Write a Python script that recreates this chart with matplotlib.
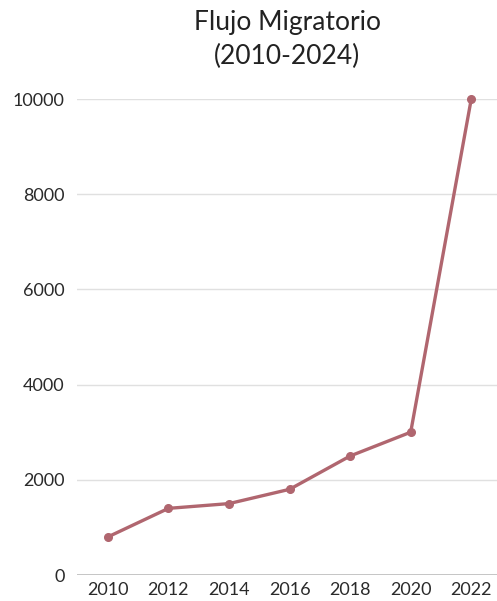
import matplotlib
matplotlib.use("Agg")
import matplotlib.pyplot as plt

years = [2010, 2012, 2014, 2016, 2018, 2020, 2022]
values = [800, 1400, 1500, 1800, 2500, 3000, 10000]
yticks = [0, 2000, 4000, 6000, 8000, 10000]
title = "Flujo Migratorio\n(2010-2024)"

plt.rcParams['font.family'] = ['Lato', 'DejaVu Sans']

fig = plt.figure(figsize=(4.97, 6.01), dpi=100)
ax = fig.add_axes([77/497, 26/601, 1 - 77/497, (575-99)/601])

color = '#b0666f'
ax.plot(years, values, color=color, linewidth=2.4, marker='o', markersize=5.5,
        clip_on=False, zorder=3)

ax.set_xlim(2008.98, 2022.85)
ax.set_ylim(0, 10000)
ax.set_xticks(years)
ax.set_yticks(yticks)
ax.tick_params(axis='both', length=0, labelsize=13, colors='#2a2a2a')
ax.tick_params(axis='y', pad=9)
ax.tick_params(axis='x', pad=5)

for s in ax.spines.values():
    s.set_visible(False)
ax.grid(axis='y', color='#e0e0e0', linewidth=1)
ax.axhline(0, color='#bdbdbd', linewidth=1.2, zorder=1)
ax.set_axisbelow(True)

fig.text((77 + 497) / 2 / 497, 1 - 10/601, title, ha='center', va='top',
         fontsize=19, color='#222222', linespacing=1.45)

fig.savefig('out.png', dpi=100, facecolor='white')
